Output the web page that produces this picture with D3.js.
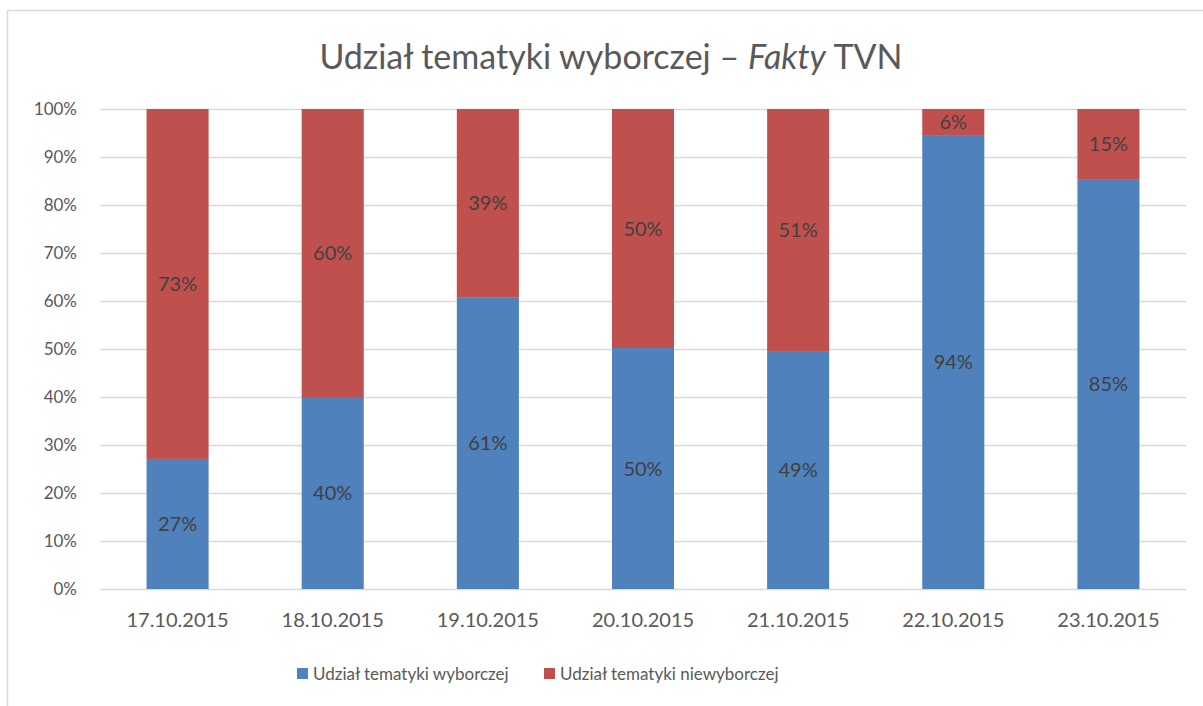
<!DOCTYPE html>
<html><head><meta charset="utf-8">
<script src="https://cdn.jsdelivr.net/npm/d3@7/dist/d3.min.js"></script>
<style>body{margin:0;background:#fff;}svg{display:block;font-family:Lato,"Open Sans",sans-serif;}</style>
</head><body>
<svg id="c" width="1203" height="706"></svg>
<script>
const categories = ["17.10.2015","18.10.2015","19.10.2015","20.10.2015","21.10.2015","22.10.2015","23.10.2015"];
const electoral = [27.1, 39.8, 60.8, 50.2, 49.4, 94.4, 85.4];
const nonElectoral = electoral.map(v => 100 - v);
const yTicks = [0,10,20,30,40,50,60,70,80,90,100];
const seriesNames = ["Udział tematyki wyborczej","Udział tematyki niewyborczej"];
const colors = ["#4F81BD","#C0504D"];

const svg = d3.select("#c");
svg.append("rect").attr("x",7.5).attr("y",10.5).attr("width",1200).attr("height",720)
  .attr("fill","none").attr("stroke","#d9d9d9").attr("stroke-width",1.5);

const L=100,R=1186,T=109,B=589;
const x = d3.scaleBand().domain(categories).range([L,R]).paddingInner(0.6).paddingOuter(0.3);
const y = d3.scaleLinear().domain([0,100]).range([B,T]);

svg.append("g").selectAll("line").data(yTicks).join("line")
  .attr("x1",L).attr("x2",R).attr("y1",d=>y(d)+0.5).attr("y2",d=>y(d)+0.5)
  .attr("stroke","#d9d9d9").attr("stroke-width",1.5);

svg.append("g").selectAll("text").data(yTicks).join("text")
  .attr("x",77).attr("y",d=>y(d)).attr("dy","0.35em").attr("text-anchor","end")
  .attr("fill","#595959").attr("font-size",17).text(d=>d+"%");

const stack = categories.map((c,i)=>({c, vals:[electoral[i], nonElectoral[i]]}));
stack.forEach(d=>{
  let acc=0;
  d.vals.forEach((v,si)=>{
    const y0=acc, y1=acc+v; acc=y1;
    svg.append("rect").attr("x",x(d.c)).attr("width",x.bandwidth())
      .attr("y",y(y1)).attr("height",y(y0)-y(y1)).attr("fill",colors[si]);
    svg.append("text").attr("x",x(d.c)+x.bandwidth()/2).attr("y",y((y0+y1)/2))
      .attr("dy","0.35em").attr("text-anchor","middle").attr("fill","#404040")
      .attr("font-size",20).text(Math.round(v)+"%");
  });
});

svg.append("g").selectAll("text").data(categories).join("text")
  .attr("x",d=>x(d)+x.bandwidth()/2).attr("y",627).attr("text-anchor","middle")
  .attr("fill","#595959").attr("font-size",20).text(d=>d);

const title = svg.append("text").attr("x",611).attr("y",69).attr("text-anchor","middle")
  .attr("fill","#595959").attr("font-size",34);
title.append("tspan").text("Udział tematyki wyborczej – ");
title.append("tspan").attr("font-style","italic").text("Fakty");
title.append("tspan").text(" TVN");

const leg = svg.append("g");
const lx=[297,544];
seriesNames.forEach((n,i)=>{
  leg.append("rect").attr("x",lx[i]).attr("y",668).attr("width",11).attr("height",11).attr("fill",colors[i]);
  leg.append("text").attr("x",lx[i]+16).attr("y",674).attr("dy","0.35em").attr("fill","#595959")
    .attr("font-size",17).text(n);
});
</script>
</body></html>
